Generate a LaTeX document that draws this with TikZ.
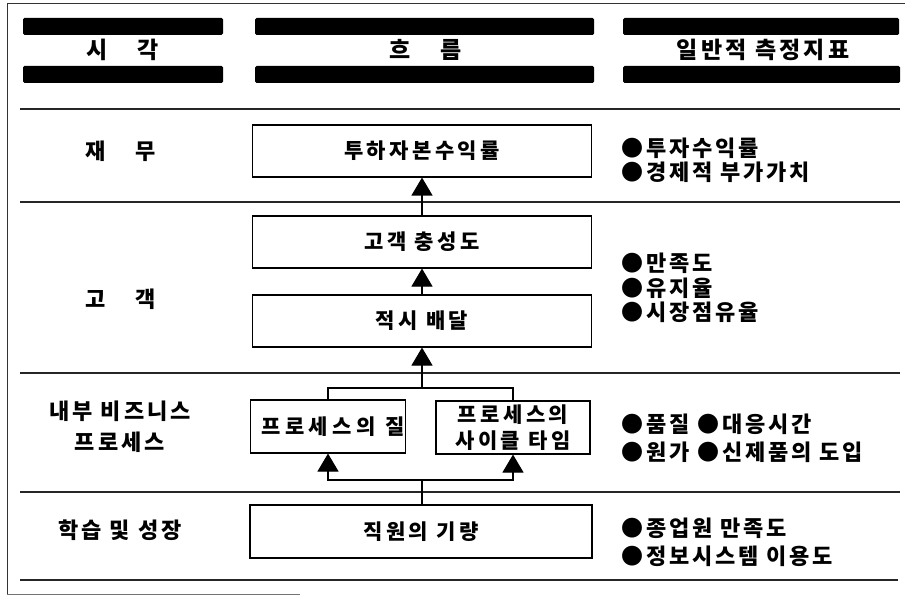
\documentclass[tikz,border=0pt]{standalone}
\usepackage{fontspec}
\newfontfamily\kr{Noto Sans CJK KR}
\newfontfamily\krs{Noto Sans CJK KR}[LetterSpace=16]
\newfontfamily\krh{Noto Sans CJK KR}[LetterSpace=14]
\newfontfamily\kri{Noto Sans CJK KR}[LetterSpace=13]
\newfontfamily\krw{Noto Sans CJK KR}[LetterSpace=22]
\usetikzlibrary{arrows.meta}
\begin{document}
\begin{tikzpicture}[x=1pt,y=-1pt,
  bar/.style={fill=black, draw=none, rounded corners=1.5pt},
  sep/.style={line width=1.4pt, draw=black!85},
  frame/.style={line width=1pt, draw=black!80},
  flowbox/.style={draw, line width=1.1pt, inner sep=0pt, font=\krs\bfseries\fontsize{21}{26}\selectfont, align=center},
  arr/.style={-{Triangle[width=21pt,length=18pt]}, line width=1.1pt},
  conn/.style={line width=1.1pt},
  head/.style={font=\krh\bfseries\fontsize{23}{26}\selectfont},
  rowlab/.style={font=\krh\bfseries\fontsize{22}{31}\selectfont, align=center},
  ind/.style={anchor=west, inner sep=0pt, font=\kri\bfseries\fontsize{22}{26}\selectfont}
]
\useasboundingbox (0,0) rectangle (905,596);
\fill[white] (0,0) rectangle (905,596);

% frame
\draw[frame] (7,594) -- (7,4) -- (905,4);
\draw[line width=1pt, draw=black!55] (7,594) -- (300,594);

% header bars
\fill[bar] (23,18) rectangle (223,35);
\fill[bar] (23,66) rectangle (223,83);
\fill[bar] (255,18) rectangle (594,35);
\fill[bar] (255,66) rectangle (594,83);
\fill[bar] (623,18) rectangle (899,35);
\fill[bar] (623,66) rectangle (900,83);

\node[head] (h1) at (123,50) {시\hspace{30pt}각};
\node[head] (h2) at (426,50) {흐\hspace{30pt}름};
\node[head] (h3) at (763,50) {일반적 측정지표};

% separators
\draw[sep] (20,109) -- (900,109);
\draw[sep] (20,202) -- (900,202);
\draw[sep] (20,373) -- (900,373);
\draw[sep] (20,492) -- (900,492);
\draw[sep] (20,580) -- (898,580);

% row labels
\node[rowlab] (l1) at (121,151) {재\hspace{30pt}무};
\node[rowlab] (l2) at (121,299) {고\hspace{30pt}객};
\node[rowlab] (l3) at (120,427) {내부 비즈니스\\프로세스};
\node[rowlab] (l4) at (120,530) {학습 및 성장};

% flow boxes
\node[flowbox, minimum width=339pt, minimum height=52pt] (b1) at (422,151) {투하자본수익률};
\node[flowbox, minimum width=339pt, minimum height=52pt] (b2) at (422,242) {고객 충성도};
\node[flowbox, minimum width=339pt, minimum height=52pt] (b3) at (422,321) {적시 배달};
\node[flowbox, minimum width=155pt, minimum height=53pt] (b4) at (328,426.5) {};
\node[font=\krw\bfseries\fontsize{21}{26}\selectfont, inner sep=0pt] (t4) at (333,426.5) {프로세스의 질};
\node[flowbox, minimum width=154pt, minimum height=53pt] (b5) at (513,427.5) {프로세스의\\사이클 타임};
\node[flowbox, minimum width=342pt, minimum height=53pt] (b6) at (421,531.5) {직원의 기량};

% connectors
\coordinate (j1) at (422,388);
\coordinate (j2) at (422,480);
\draw[arr] (b2.north) -- (b1.south);
\draw[arr] (b3.north) -- (b2.south);
\draw[conn] (b4.north) |- (j1) -| (b5.north);
\draw[arr] (j1) -- (b3.south);
\draw[conn] (b6.north -| j2) -- (j2);
\draw[arr] (j2) -| (b4.south);
\draw[arr] (j2) -| (b5.south);

% indicators
\node[ind] (i1) at (621,148) {●투자수익률};
\node[ind] (i2) at (621,172) {●경제적 부가가치};
\node[ind] (i3) at (621,263) {●만족도};
\node[ind] (i4) at (621,288) {●유지율};
\node[ind] (i5) at (621,312) {●시장점유율};
\node[ind] (i6) at (621,424) {●품질 ●대응시간};
\node[ind] (i7) at (621,452) {●원가 ●신제품의 도입};
\node[ind] (i8) at (621,528) {●종업원 만족도};
\node[ind] (i9) at (621,556) {●정보시스템 이용도};
\end{tikzpicture}
\end{document}
